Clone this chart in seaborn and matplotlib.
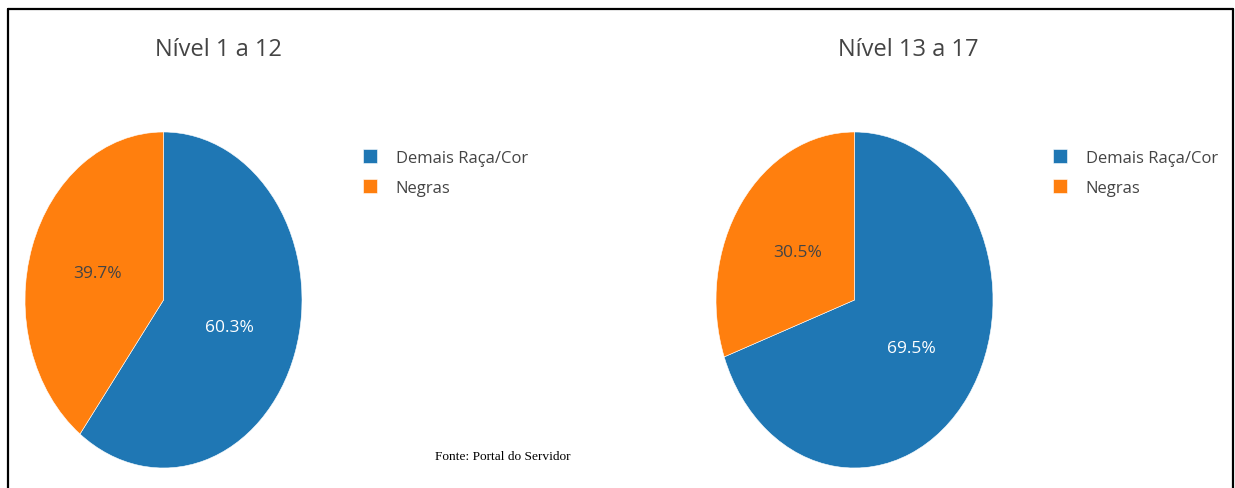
import matplotlib
matplotlib.use("Agg")
import matplotlib.pyplot as plt
from matplotlib.lines import Line2D
import seaborn as sns

# dados
categorias = ["Demais Raça/Cor", "Negras"]
titulos = ["Nível 1 a 12", "Nível 13 a 17"]
nivel_1_12 = [60.3, 39.7]
nivel_13_17 = [69.5, 30.5]
fonte = "Fonte: Portal do Servidor"

sns.set_style("white")
plt.rcParams["font.family"] = ["Open Sans", "DejaVu Sans"]
cores = sns.color_palette("tab10")[:2]

W, H = 1235, 489
fig = plt.figure(figsize=(W / 100, H / 100), dpi=100)


def fx(px):
    return px / W


def fy(py):
    return 1 - py / H


def desenha_pizza(valores, titulo, x0, leg_x, tit_x):
    # eixo em pixels: pizza eliptica como no original
    ax = fig.add_axes([fx(x0), fy(469), fx(277), 336 / H])
    wedges, textos, pcts = ax.pie(
        valores, colors=cores, startangle=90, counterclock=False,
        autopct="%.1f%%", pctdistance=0.5,
        wedgeprops=dict(edgecolor="white", linewidth=0.4),
        textprops=dict(fontsize=12.5),
    )
    ax.set_aspect("auto")
    ax.set_xlim(-1, 1)
    ax.set_ylim(-1, 1)
    pcts[0].set_color("white")
    pcts[1].set_color("#444444")

    fig.text(fx(tit_x), fy(50), titulo, ha="center", va="center",
             fontsize=17, color="#444444")

    fig.legend(wedges, categorias, loc="upper left",
               bbox_to_anchor=(fx(leg_x), fy(150)), frameon=False,
               fontsize=12, handlelength=0.85, handleheight=0.9,
               handletextpad=1.1, labelspacing=0.8, borderpad=0,
               borderaxespad=0, labelcolor="#444444")


desenha_pizza(nivel_1_12, titulos[0], 25, 363, 218)
desenha_pizza(nivel_13_17, titulos[1], 716, 1053, 908)

fig.text(fx(503), fy(457), fonte, ha="center", va="center",
         fontsize=9.6, family=["Liberation Serif", "DejaVu Serif"], color="black")

# moldura (sem borda inferior)
for xs, ys in [([8, 8], [H, 10]), ([8, 1233], [10, 10]), ([1233, 1233], [10, H])]:
    fig.add_artist(Line2D([fx(x) for x in xs], [fy(y) for y in ys],
                          color="black", linewidth=1.6))

fig.savefig("out.png", dpi=100)
